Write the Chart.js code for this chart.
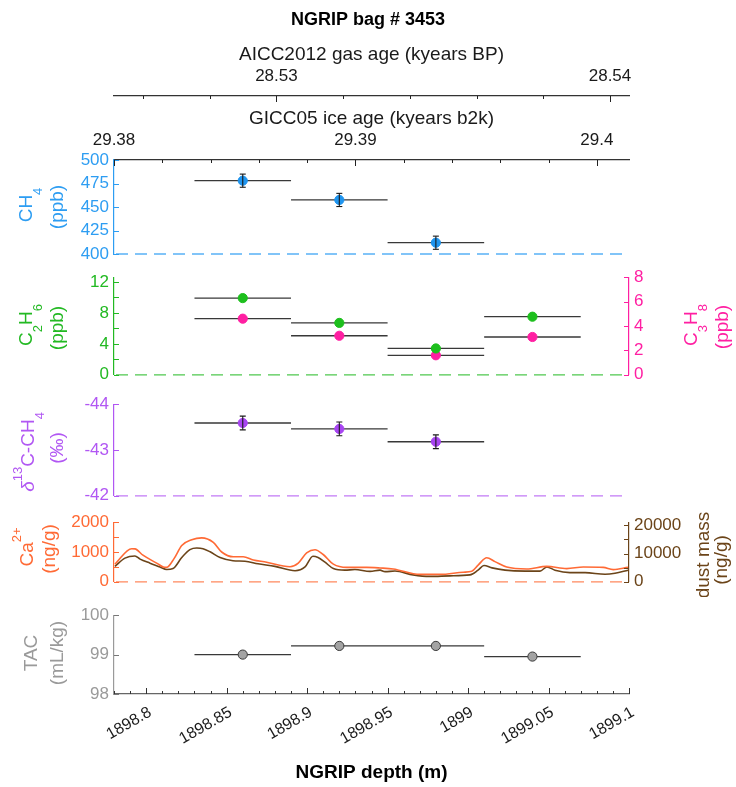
<!DOCTYPE html>
<html>
<head>
<meta charset="utf-8">
<script src="https://cdn.jsdelivr.net/npm/chart.js@4.4.1/dist/chart.umd.min.js"></script>
<style>
  html, body { margin: 0; padding: 0; background: #fff; }
  #fig { position: relative; width: 736px; height: 787px; overflow: hidden; background: #fff; }
</style>
</head>
<body>
<div id="fig"></div>
<script>
// depth range of the bag (m) and the two age scales over the same span
const depthLimits = [1898.78, 1899.1];
const iceAgeLimits = [29.38, 29.40133];
const gasAgeLimits = [28.52513, 28.54057];

// tick labels
const depthTicks = [1898.8, 1898.85, 1898.9, 1898.95, 1899, 1899.05, 1899.1];
const iceTicks = [29.38, 29.39, 29.4];
const gasTicks = [28.53, 28.54];
const ch4Ticks = [400, 425, 450, 475, 500];
const c2h6Ticks = [0, 4, 8, 12];
const c3h8Ticks = [0, 2, 4, 6, 8];
const d13cTicks = [-44, -43, -42];
const caTicks = [0, 1000, 2000];
const dustTicks = [0, 10000, 20000];
const tacTicks = [98, 99, 100];

// discrete gas samples: depth interval and centre
const sampleTop = [1898.83, 1898.89, 1898.95, 1899.01];
const sampleBottom = [1898.89, 1898.95, 1899.01, 1899.07];
const sampleMid = [1898.86, 1898.92, 1898.98, 1899.04];

const ch4 = [478, 457.5, 412];
const ch4Err = [7, 7, 7];
const c2h6 = [9.9, 6.7, 3.4, 7.5];
const c3h8 = [4.6, 3.2, 1.6, 3.1];
const d13c = [-43.59, -43.46, -43.18];
const d13cErr = [0.15, 0.15, 0.15];
const tac = [99.0, 99.22, 99.22, 98.95];

// continuous records
const caDepth = [1898.7806, 1898.791, 1898.793, 1898.798, 1898.8065, 1898.8106, 1898.8127, 1898.8174,
  1898.8221, 1898.8283, 1898.8345, 1898.8417, 1898.8469, 1898.8541, 1898.8603, 1898.8666, 1898.8749,
  1898.8852, 1898.8894, 1898.8945, 1898.8997, 1898.9049, 1898.91, 1898.9163, 1898.9246, 1898.937,
  1898.9453, 1898.9535, 1898.9701, 1898.9826, 1898.997, 1899.0023, 1899.0064, 1899.0116, 1899.0167,
  1899.024, 1899.0364, 1899.0489, 1899.0613, 1899.0716, 1899.084, 1899.0902, 1899.0994];
const caValues = [594, 1110, 1105, 894, 626, 497, 484, 787,
  1216, 1410, 1474, 1323, 1000, 839, 839, 732, 658,
  529, 506, 626, 968, 1077, 916, 594, 484, 484,
  465, 432, 248, 248, 323, 355, 571, 806, 677,
  497, 432, 516, 442, 497, 484, 410, 484];

const dustDepth = [1898.7806, 1898.7868, 1898.793, 1898.7962, 1898.8024, 1898.8086, 1898.8127, 1898.8167,
  1898.8221, 1898.8272, 1898.8314, 1898.8353, 1898.8397, 1898.8459, 1898.8539, 1898.8614, 1898.8695,
  1898.88, 1898.8925, 1898.8987, 1898.9036, 1898.9068, 1898.9111, 1898.9163, 1898.9235, 1898.9297,
  1898.9391, 1898.9453, 1898.9484, 1898.9546, 1898.9658, 1898.9763, 1898.9888, 1899.0012, 1899.0062,
  1899.0099, 1899.0149, 1899.023, 1899.0354, 1899.0447, 1899.049, 1899.054, 1899.0633, 1899.0727,
  1899.0851, 1899.0913, 1899.0994];
const dustValues = [5460, 8375, 9150, 8040, 6600, 5260, 4355, 4690,
  8600, 11390, 11960, 11725, 10620, 8600, 7470, 7270, 6365,
  5460, 3920, 5260, 9045, 8600, 6935, 4690, 4120, 4355,
  3685, 4120, 3585, 3800, 2445, 1910, 2110, 2445, 4120,
  5795, 4925, 4120, 3785, 3785, 5260, 4120, 3250, 3250,
  2680, 3015, 4120];

const FONT = '"Liberation Sans", Arial, Helvetica, sans-serif';
const BLUE = '#2d9df2', GREEN = '#22b922', PINK = '#ff1fa2', PURPLE = '#b157f3';
const ORANGE = '#ff6a35', BROWN = '#6b4419', GRAY = '#9a9a9a', INK = '#1a1a1a';

Chart.defaults.font.family = FONT;
Chart.defaults.animation = false;
Chart.defaults.events = [];
Chart.defaults.responsive = false;
Chart.defaults.plugins.legend.display = false;
Chart.defaults.plugins.tooltip.enabled = false;

const fig = document.getElementById('fig');
function addCanvas(top, height) {
  const c = document.createElement('canvas');
  c.width = 736; c.height = height;
  c.style.cssText = 'position:absolute;left:0;top:' + top + 'px;width:736px;height:' + height + 'px';
  fig.appendChild(c);
  return c.getContext('2d');
}

// ---- datasets ----
function bars(values, yAxisID) {
  const pts = [];
  values.forEach((v, i) => pts.push({x: sampleTop[i], y: v}, {x: sampleBottom[i], y: v}, {x: sampleBottom[i], y: null}));
  return {data: pts, showLine: true, borderColor: '#383838', borderWidth: 1.3, pointRadius: 0, order: 3, yAxisID: yAxisID || 'y'};
}
function dots(values, color, yAxisID, edge) {
  return {
    data: values.map((v, i) => ({x: sampleMid[i], y: v})),
    pointRadius: 4.6, backgroundColor: color, borderColor: edge || color, borderWidth: 1,
    order: 2, yAxisID: yAxisID || 'y'
  };
}
function errs(values, spread) {
  const pts = [];
  values.forEach((v, i) => pts.push({x: sampleMid[i], y: v - spread[i]}, {x: sampleMid[i], y: v + spread[i]}, {x: sampleMid[i], y: null}));
  return {
    data: pts, showLine: true, borderColor: INK, borderWidth: 1.1,
    pointStyle: 'line', pointRadius: 3, pointBorderColor: INK, pointBorderWidth: 1.1, order: 1
  };
}
function curve(depth, values, color, yAxisID) {
  return {
    data: depth.map((d, i) => ({x: d, y: values[i]})), showLine: true, borderColor: color,
    borderWidth: 1.6, pointRadius: 0, cubicInterpolationMode: 'monotone', yAxisID: yAxisID
  };
}

// ---- scales ----
const fmt = v => String(+v.toFixed(3));
const fixedTicks = values => sc => { sc.ticks = values.map(v => ({value: v})); };

function depthScale(show) {
  const s = {type: 'linear', min: depthLimits[0], max: depthLimits[1], display: show};
  if (show) {
    Object.assign(s, {
      position: 'bottom',
      afterBuildTicks: fixedTicks(depthTicks),
      afterFit: sc => { sc.height = 93; },
      grid: {display: false, drawTicks: false},
      border: {display: true, color: '#666', width: 1.2},
      ticks: {autoSkip: false, minRotation: 30, maxRotation: 30,
        padding: 9, labelOffset: 4, color: INK, font: {size: 16}, callback: fmt},
      title: {display: true, text: 'NGRIP depth (m)', color: '#000', font: {size: 19, weight: 'bold'}, padding: {top: 0, bottom: 3}}
    });
  }
  return s;
}
function ageScale(limits, values, text, weight, height, titlePad) {
  return {
    type: 'linear', position: 'top', min: limits[0], max: limits[1], weight: weight,
    afterBuildTicks: fixedTicks(values),
    afterFit: sc => { sc.height = height; },
    grid: {display: false, drawTicks: false},
    border: {display: true, color: '#333', width: 1.2},
    ticks: {autoSkip: false, maxRotation: 0, padding: 9, color: INK, font: {size: 17}, callback: fmt},
    title: {display: true, text: text, color: INK, font: {size: 19}, padding: {top: titlePad, bottom: 0}}
  };
}
function yScale(o) {
  return {
    type: 'linear', position: o.pos || 'left', min: o.min, max: o.max, reverse: !!o.reverse,
    afterBuildTicks: fixedTicks(o.ticks),
    afterFit: sc => { sc.width = o.pos === 'right' ? 107 : 114; },
    grid: {display: false, drawTicks: false},
    border: {display: true, color: o.color, width: 1.2},
    ticks: {autoSkip: false, color: o.color, padding: 5, font: {size: 17}, callback: v => String(v)}
  };
}
// empty right-hand gutter so that the panel keeps the same plot width
const gutter = {
  type: 'linear', position: 'right', display: true,
  afterFit: sc => { sc.width = 107; },
  grid: {display: false, drawTicks: false}, border: {display: false}, ticks: {display: false}
};

// ---- inward ticks, dashed zero lines and rotated axis labels with sub/superscripts ----
function drawTicks(ctx, s, t) {
  const pos = s.options.position;
  const edge = pos === 'top' ? s.bottom : pos === 'bottom' ? s.top : pos === 'left' ? s.right : s.left;
  const dir = (pos === 'top' || pos === 'left') ? 1 : -1;
  const k0 = Math.ceil(s.min / t.step - 1e-6), k1 = Math.floor(s.max / t.step + 1e-6);
  ctx.strokeStyle = t.color; ctx.lineWidth = 1;
  ctx.beginPath();
  for (let k = k0; k <= k1; k++) {
    const v = k * t.step;
    const r = t.major ? v / t.major : 0;
    const len = (!t.major || Math.abs(r - Math.round(r)) < 1e-6) ? (t.len || 6) : 3;
    const p = Math.round(s.getPixelForValue(v)) + 0.5;
    if (s.isHorizontal()) { ctx.moveTo(p, edge); ctx.lineTo(p, edge + dir * len); }
    else { ctx.moveTo(edge, p); ctx.lineTo(edge + dir * len, p); }
  }
  ctx.stroke();
}
function richText(ctx, t, top) {
  const S = 19;
  const small = p => p[1] === 'sub' || p[1] === 'sup';
  const font = p => (p[1] === 'it' ? 'italic ' : '') + (small(p) ? Math.round(S * 0.7) : S) + 'px ' + FONT;
  ctx.save();
  ctx.translate(t.x, t.y - top);
  ctx.rotate(-Math.PI / 2);
  ctx.fillStyle = t.color; ctx.textBaseline = 'middle'; ctx.textAlign = 'left';
  const widths = t.parts.map(p => { ctx.font = font(p); return ctx.measureText(p[0]).width; });
  let x = -widths.reduce((a, b) => a + b, 0) / 2;
  t.parts.forEach((p, i) => {
    ctx.font = font(p);
    const dy = p[1] === 'sub' ? S * 0.6 : p[1] === 'sup' ? -S * 0.55 : 0;
    ctx.fillText(p[0], x, dy);
    x += widths[i];
  });
  ctx.restore();
}
function deco(cfg) {
  return {
    id: 'deco',
    afterDraw(chart) {
      const ctx = chart.ctx, area = chart.chartArea;
      ctx.save();
      if (cfg.base) {
        ctx.strokeStyle = cfg.base; ctx.globalAlpha = 0.8; ctx.lineWidth = 1.3; ctx.setLineDash([12, 7]);
        ctx.beginPath(); ctx.moveTo(area.left + 2, area.bottom); ctx.lineTo(area.right, area.bottom); ctx.stroke();
        ctx.setLineDash([]); ctx.globalAlpha = 1;
      }
      (cfg.ticks || []).forEach(t => drawTicks(ctx, chart.scales[t.id], t));
      (cfg.titles || []).forEach(t => richText(ctx, t, cfg.top));
      ctx.restore();
    }
  };
}

// ---- CH4 with the title and both age axes on top ----
new Chart(addCanvas(0, 274), {
  type: 'scatter',
  data: {datasets: [bars(ch4), dots(ch4, '#1f95ef'), errs(ch4, ch4Err)]},
  options: {
    layout: {padding: {top: 0, bottom: 20, left: 0, right: 0}},
    plugins: {title: {display: true, text: 'NGRIP bag # 3453', color: '#000',
      font: {size: 18, weight: 'bold'}, padding: {top: 9, bottom: 0}}},
    scales: {
      x: depthScale(false),
      gas: ageScale(gasAgeLimits, gasTicks, 'AICC2012 gas age (kyears BP)', 2, 65.4, 13),
      ice: ageScale(iceAgeLimits, iceTicks, 'GICC05 ice age (kyears b2k)', 1, 64, 11.5),
      y: yScale({min: 400, max: 500, ticks: ch4Ticks, color: BLUE}),
      gutter: gutter
    }
  },
  plugins: [deco({
    top: 0, base: BLUE,
    ticks: [{id: 'y', step: 25, color: BLUE, len: 5}, {id: 'ice', step: 0.002, major: 0.01, color: '#222'},
      {id: 'gas', step: 0.002, major: 0.01, color: '#222'}],
    titles: [{x: 27, y: 205, color: BLUE, parts: [['CH'], ['4', 'sub']]},
      {x: 58, y: 207, color: BLUE, parts: [['(ppb)']]}]
  })]
});

// ---- C2H6 (left) and C3H8 (right) ----
new Chart(addCanvas(262, 128), {
  type: 'scatter',
  data: {datasets: [bars(c2h6), bars(c3h8, 'y2'), dots(c2h6, '#1dbf1d'), dots(c3h8, PINK, 'y2')]},
  options: {
    layout: {padding: {top: 14, bottom: 14, left: 0, right: 0}},
    scales: {
      x: depthScale(false),
      y: yScale({min: 0, max: 12.6, ticks: c2h6Ticks, color: GREEN}),
      y2: yScale({min: 0, max: 8, ticks: c3h8Ticks, color: PINK, pos: 'right'})
    }
  },
  plugins: [deco({
    top: 262, base: GREEN,
    ticks: [{id: 'y', step: 2, color: GREEN, len: 5}, {id: 'y2', step: 2, color: PINK, len: 5}],
    titles: [{x: 27, y: 325, color: GREEN, parts: [['C'], ['2', 'sub'], ['H'], ['6', 'sub']]},
      {x: 58, y: 328, color: GREEN, parts: [['(ppb)']]},
      {x: 692, y: 325, color: PINK, parts: [['C'], ['3', 'sub'], ['H'], ['8', 'sub']]},
      {x: 723, y: 327, color: PINK, parts: [['(ppb)']]}]
  })]
});

// ---- d13C of CH4 (axis reversed) ----
new Chart(addCanvas(389, 122), {
  type: 'scatter',
  data: {datasets: [bars(d13c), dots(d13c, '#a845f2'), errs(d13c, d13cErr)]},
  options: {
    layout: {padding: {top: 14, bottom: 14, left: 0, right: 0}},
    scales: {
      x: depthScale(false),
      y: yScale({min: -44, max: -42, ticks: d13cTicks, color: PURPLE, reverse: true}),
      gutter: gutter
    }
  },
  plugins: [deco({
    top: 389, base: PURPLE,
    ticks: [{id: 'y', step: 1, color: PURPLE, len: 5}],
    titles: [{x: 29, y: 452, color: PURPLE, parts: [['δ', 'it'], ['13', 'sup'], ['C-CH'], ['4', 'sub']]},
      {x: 58, y: 448, color: PURPLE, parts: [['(‰)']]}]
  })]
});

// ---- Ca2+ (left) and dust mass (right) ----
new Chart(addCanvas(507, 90), {
  type: 'scatter',
  data: {datasets: [curve(caDepth, caValues, ORANGE, 'y'), curve(dustDepth, dustValues, BROWN, 'y2')]},
  options: {
    layout: {padding: {top: 14, bottom: 14, left: 0, right: 0}},
    scales: {
      x: depthScale(false),
      y: yScale({min: 0, max: 2000, ticks: caTicks, color: ORANGE}),
      y2: yScale({min: 0, max: 21100, ticks: dustTicks, color: BROWN, pos: 'right'})
    }
  },
  plugins: [deco({
    top: 507, base: ORANGE,
    ticks: [{id: 'y', step: 500, color: ORANGE, len: 5}, {id: 'y2', step: 5000, color: BROWN, len: 5}],
    titles: [{x: 28, y: 547, color: ORANGE, parts: [['Ca'], ['2+', 'sup']]},
      {x: 50, y: 549, color: ORANGE, parts: [['(ng/g)']]},
      {x: 704, y: 555, color: BROWN, parts: [['dust mass']]},
      {x: 722, y: 560, color: BROWN, parts: [['(ng/g)']]}]
  })]
});

// ---- total air content with the depth axis ----
new Chart(addCanvas(600, 187), {
  type: 'scatter',
  data: {datasets: [bars(tac), dots(tac, '#a3a3a3', 'y', '#3a3a3a')]},
  options: {
    layout: {padding: {top: 14, bottom: 0, left: 0, right: 0}},
    scales: {
      x: depthScale(true),
      y: yScale({min: 98, max: 100, ticks: tacTicks, color: GRAY}),
      gutter: gutter
    }
  },
  plugins: [deco({
    top: 600,
    ticks: [{id: 'y', step: 1, color: '#777', len: 5}, {id: 'x', step: 0.01, major: 0.05, color: '#333'}],
    titles: [{x: 32, y: 653, color: GRAY, parts: [['TAC']]},
      {x: 58, y: 653, color: GRAY, parts: [['(mL/kg)']]}]
  })]
});
</script>
</body>
</html>
